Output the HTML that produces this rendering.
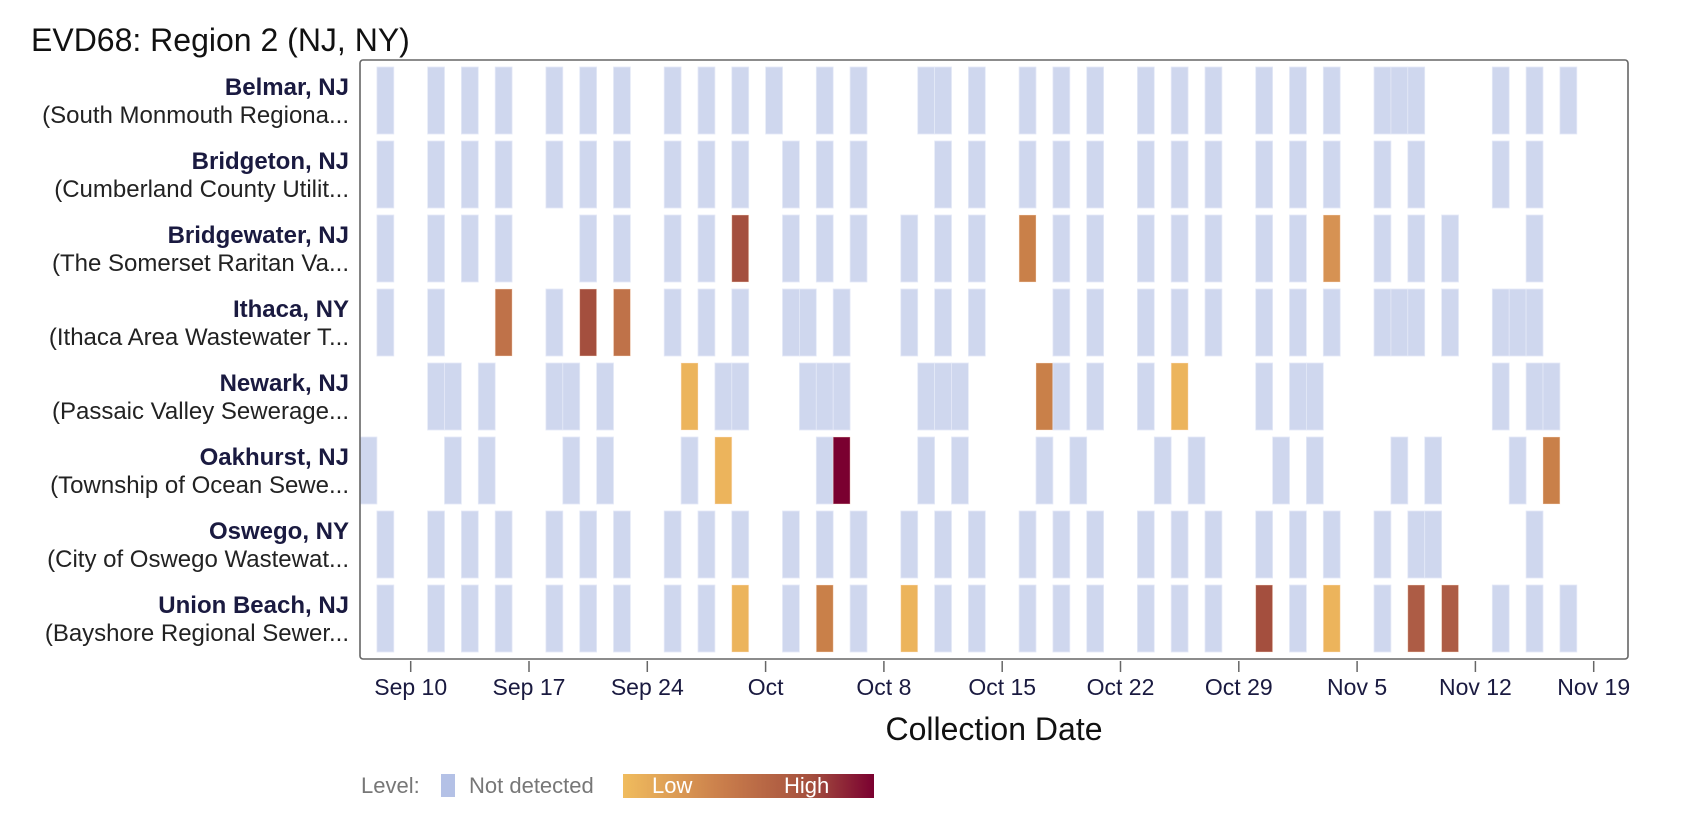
<!DOCTYPE html>
<html><head><meta charset="utf-8">
<style>
html,body{margin:0;padding:0;background:#fff;}
body{width:1702px;height:810px;overflow:hidden;font-family:"Liberation Sans",Arial,sans-serif;}
svg text{font-family:"Liberation Sans",Arial,sans-serif;}
</style></head>
<body>
<svg id="s" width="1702" height="810" viewBox="0 0 1702 810" xmlns="http://www.w3.org/2000/svg">
<defs>
<linearGradient id="g" x1="0" x2="1" y1="0" y2="0">
<stop offset="0" stop-color="#f0bc5e"/>
<stop offset="0.4" stop-color="#c97d4b"/>
<stop offset="0.75" stop-color="#a44f3e"/>
<stop offset="1" stop-color="#7a0030"/>
</linearGradient>
</defs>
<text x="31" y="51" font-size="32" fill="#111">EVD68: Region 2 (NJ, NY)</text>
<g id="bars"></g>
<rect x="360" y="60" width="1268" height="599" rx="3" fill="none" stroke="#666" stroke-width="1.6"/>
<g font-size="24" text-anchor="end">
<text x="349" y="95" font-weight="bold" fill="#1a1a40">Belmar, NJ</text>
<text x="349" y="123" fill="#222">(South Monmouth Regiona...</text>
<text x="349" y="169" font-weight="bold" fill="#1a1a40">Bridgeton, NJ</text>
<text x="349" y="197" fill="#222">(Cumberland County Utilit...</text>
<text x="349" y="243" font-weight="bold" fill="#1a1a40">Bridgewater, NJ</text>
<text x="349" y="271" fill="#222">(The Somerset Raritan Va...</text>
<text x="349" y="317" font-weight="bold" fill="#1a1a40">Ithaca, NY</text>
<text x="349" y="345" fill="#222">(Ithaca Area Wastewater T...</text>
<text x="349" y="391" font-weight="bold" fill="#1a1a40">Newark, NJ</text>
<text x="349" y="419" fill="#222">(Passaic Valley Sewerage...</text>
<text x="349" y="465" font-weight="bold" fill="#1a1a40">Oakhurst, NJ</text>
<text x="349" y="493" fill="#222">(Township of Ocean Sewe...</text>
<text x="349" y="539" font-weight="bold" fill="#1a1a40">Oswego, NY</text>
<text x="349" y="567" fill="#222">(City of Oswego Wastewat...</text>
<text x="349" y="613" font-weight="bold" fill="#1a1a40">Union Beach, NJ</text>
<text x="349" y="641" fill="#222">(Bayshore Regional Sewer...</text>
</g>
<g id="ticks" stroke="#666" stroke-width="1.5"></g>
<g font-size="23" fill="#1a1a40" text-anchor="middle">
<text x="410.7" y="695">Sep 10</text>
<text x="529" y="695">Sep 17</text>
<text x="647.3" y="695">Sep 24</text>
<text x="765.6" y="695">Oct</text>
<text x="883.9" y="695">Oct 8</text>
<text x="1002.2" y="695">Oct 15</text>
<text x="1120.5" y="695">Oct 22</text>
<text x="1238.8" y="695">Oct 29</text>
<text x="1357.1" y="695">Nov 5</text>
<text x="1475.4" y="695">Nov 12</text>
<text x="1593.7" y="695">Nov 19</text>
</g>
<text x="994" y="740" font-size="32" fill="#111" text-anchor="middle">Collection Date</text>
<text x="361" y="793" font-size="22" fill="#777">Level:</text>
<rect x="441" y="774" width="14" height="23" fill="#b4c1e6"/>
<text x="469" y="793" font-size="22" fill="#777">Not detected</text>
<rect x="623" y="774" width="251" height="24" fill="url(#g)"/>
<text x="652" y="793" font-size="22" fill="#fff">Low</text>
<text x="784" y="793" font-size="22" fill="#fff">High</text>
</svg>
<script>
var rows=[
"-2,1,3,5,8,10,12,15,17,19,21,24,26,30,31,33,36,38,40,43,45,47,50,52,54,57,58,59,64,66,68",
"-2,1,3,5,8,10,12,15,17,19,22,24,26,31,33,36,38,40,43,45,47,50,52,54,57,59,64,66",
"-2,1,3,5,10,12,15,17,19D,22,24,26,29,31,33,36O,38,40,43,45,47,50,52,54P,57,59,61,66",
"-2,1,5Q,8,10D,12Q,15,17,19,22,23,25,29,31,33,38,40,43,45,47,50,52,54,57,58,59,61,64,65,66",
"1,2,4,8,9,11,16Y,18,19,23,24,25,30,31,32,37O,38,40,43,45Y,50,52,53,64,66,67",
"-3,2,4,9,11,16,18Y,24,25C,30,32,37,39,44,46,51,53,58,60,65,67O",
"-2,1,3,5,8,10,12,15,17,19,22,24,26,29,31,33,36,38,40,43,45,47,50,52,54,57,59,60,66",
"-2,1,3,5,8,10,12,15,17,19Y,22,24O,26,29Y,31,33,36,38,40,43,45,47,50D,52,54Y,57,59R,61R,64,66,68"];
var col={"":"#cfd7ee",D:"#a44f3e",O:"#c98049",P:"#d69253",Q:"#bf7249",Y:"#ecb45c",C:"#7a0030",R:"#ad5c45"};
var ns="http://www.w3.org/2000/svg",g=document.getElementById("bars");
rows.forEach(function(r,i){r.split(",").forEach(function(t){
 var m=t.match(/(-?\d+)([A-Z]?)/),k=+m[1],c=m[2];
 var e=document.createElementNS(ns,"rect");
 e.setAttribute("x",410.7+16.9*k);e.setAttribute("y",67+74*i);
 e.setAttribute("width",16.9);e.setAttribute("height",67);
 e.setAttribute("fill",col[c]);e.setAttribute("stroke",c?"rgba(255,230,210,0.5)":"#e4e9f7");e.setAttribute("stroke-width","0.8");
 g.appendChild(e);});});
var tk=document.getElementById("ticks");
for(var j=0;j<11;j++){var x=410.7+118.3*j;var l=document.createElementNS(ns,"line");
 l.setAttribute("x1",x);l.setAttribute("x2",x);l.setAttribute("y1",661);l.setAttribute("y2",672);tk.appendChild(l);}
</script>
</body></html>
